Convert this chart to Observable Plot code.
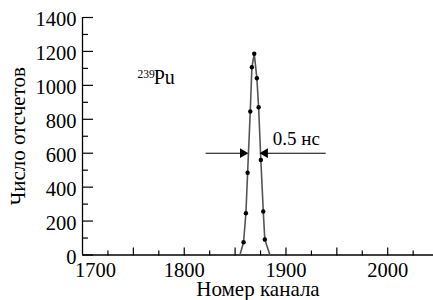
<!DOCTYPE html>
<html><head><meta charset="utf-8">
<script src="https://cdn.jsdelivr.net/npm/d3@7"></script>
<script src="https://cdn.jsdelivr.net/npm/@observablehq/plot@0.6"></script>
<style>
body{margin:0;background:#fff}
svg, svg text, svg g {font-family:"Liberation Serif","Times New Roman",serif !important}
</style>
</head><body><div id="chart"></div>
<script>
// Peak data (channel number vs counts)
const channels = [1855.0, 1858.3, 1860.6, 1862.3, 1864.9, 1866.5, 1868.8, 1871.4, 1873.1, 1875.3, 1877.7, 1879.2, 1884.0];
const counts   = [6, 75, 246, 485, 846, 1107, 1186, 1042, 871, 560, 256, 91, 5];
const marked   = [false, true, true, true, true, true, true, true, true, true, true, true, false];

// Axis ticks
const yLabels = [0, 200, 400, 600, 800, 1000, 1200, 1400];
const yMinor  = [100, 300, 500, 700, 900, 1100, 1300];
const xLabels = [1800, 1900, 2000];
const xFirstLabel = [1700];
const xMajor = [1750, 1800, 1850, 1900, 1950, 2000];
const xMinor = [1725, 1775, 1825, 1875, 1925, 1975, 2025];

// Annotations
const leftArrow  = [{x1: 1821, x2: 1860.5, y: 600}];
const rightArrow = [{x1: 1939, x2: 1876.5, y: 600}];
const widthLabel = [{x: 1887, y: 650, text: "0.5 нс"}];
const isotopeMass = [{x: 1754, y: 1045, text: "239"}];
const isotopeName = [{x: 1770, y: 1008, text: "Pu"}];
const xTitle = ["Номер канала"];
const yTitle = ["Число отсчетов"];

const data = channels.map((c, i) => ({ch: c, n: counts[i], m: marked[i]}));
const serif = "'Liberation Serif', 'Times New Roman', serif";
const fmt = d => String(d);

const chart = Plot.plot({
  width: 433, height: 300,
  marginLeft: 82, marginRight: 0, marginTop: 17, marginBottom: 45.5,
  style: {fontFamily: serif, fontSize: "20px", background: "#fff", color: "#000", overflow: "visible"},
  x: {domain: [1700, 2045]},
  y: {domain: [0, 1400]},
  marks: [
    Plot.axisY({ticks: yLabels, tickSize: 0, tickPadding: 6, dy: 2, fontSize: 20.5, tickFormat: fmt, label: null}),
    Plot.axisY({anchor: "right", frameAnchor: "left", ticks: yLabels, tickSize: 10, text: null, label: null, strokeWidth: 1.2}),
    Plot.axisY({anchor: "right", frameAnchor: "left", ticks: yMinor, tickSize: 5, text: null, label: null, strokeWidth: 1.2}),
    Plot.axisX({ticks: xLabels, tickSize: 0, tickPadding: 7, fontSize: 20.5, tickFormat: fmt, label: null}),
    Plot.axisX({ticks: xFirstLabel, tickSize: 0, tickPadding: 7, dx: 13, fontSize: 20.5, tickFormat: fmt, label: null}),
    Plot.axisX({anchor: "top", frameAnchor: "bottom", ticks: xMajor, tickSize: 8, text: null, label: null, strokeWidth: 1.2}),
    Plot.axisX({anchor: "top", frameAnchor: "bottom", ticks: xMinor, tickSize: 5, text: null, label: null, strokeWidth: 1.2}),
    Plot.ruleX([1700], {strokeWidth: 1.3}),
    Plot.ruleY([0], {strokeWidth: 1.3}),
    Plot.line(data, {x: "ch", y: "n", stroke: "#555", strokeWidth: 1.6}),
    Plot.dot(data, {filter: "m", x: "ch", y: "n", r: 2.2, fill: "#000", stroke: "none"}),
    // width arrows with filled heads
    Plot.link(leftArrow,  {x1: "x1", x2: "x2", y1: "y", y2: "y", stroke: "#000", strokeWidth: 1.1}),
    Plot.link(rightArrow, {x1: "x1", x2: "x2", y1: "y", y2: "y", stroke: "#000", strokeWidth: 1.1}),
    Plot.dot(leftArrow,  {x: "x2", y: "y", symbol: "triangle", rotate: 90,  r: 3.6, fill: "#000", stroke: "none", dx: -3}),
    Plot.dot(rightArrow, {x: "x2", y: "y", symbol: "triangle", rotate: -90, r: 3.6, fill: "#000", stroke: "none", dx: 3}),
    Plot.text(widthLabel, {x: "x", y: "y", text: "text", textAnchor: "start", lineAnchor: "bottom", fontSize: 19}),
    Plot.text(isotopeMass, {x: "x", y: "y", text: "text", textAnchor: "start", lineAnchor: "bottom", fontSize: 11.5}),
    Plot.text(isotopeName, {x: "x", y: "y", text: "text", textAnchor: "start", lineAnchor: "bottom", fontSize: 20}),
    Plot.text(xTitle, {frameAnchor: "bottom", text: d => d, dy: 40.5, textAnchor: "middle", lineAnchor: "bottom", fontSize: 21}),
    Plot.text(yTitle, {frameAnchor: "left", text: d => d, dx: -64, rotate: -90, textAnchor: "middle", lineAnchor: "middle", fontSize: 21})
  ]
});
document.getElementById("chart").appendChild(chart);
</script>
</body></html>
